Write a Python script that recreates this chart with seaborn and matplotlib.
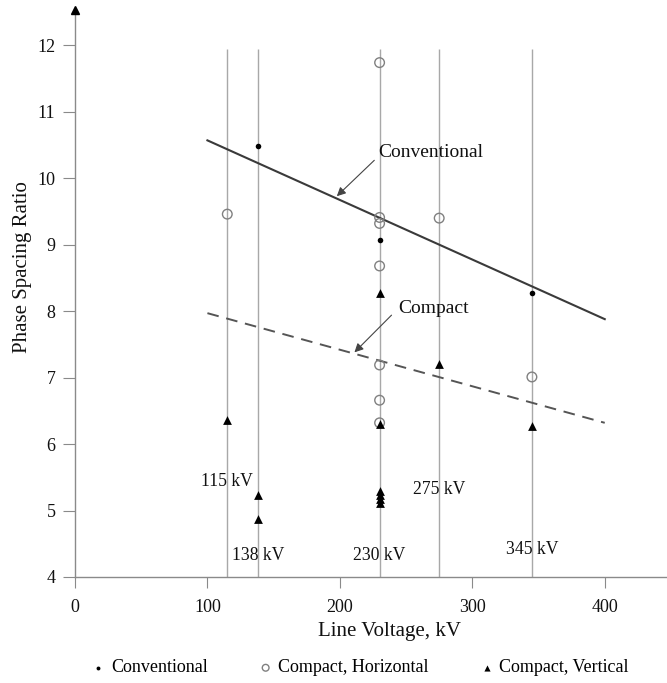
import matplotlib
matplotlib.use("Agg")
import matplotlib.pyplot as plt
import seaborn as sns
import pandas as pd

# Line voltages with a vertical guide and their labels
guide_kv = [115, 138, 230, 275, 345]
guide_labels = ["115 kV", "138 kV", "230 kV", "275 kV", "345 kV"]
guide_label_y = [5.43, 4.33, 4.33, 5.31, 4.41]

# Measured phase spacing ratios
conv_kv = [138, 230, 345]
conv_ratio = [10.48, 9.07, 8.27]

horiz_kv = [115, 230, 230, 230, 230, 230, 230, 230, 275, 345]
horiz_ratio = [9.46, 11.74, 9.41, 9.32, 8.68, 7.19, 6.66, 6.32, 9.40, 7.01]

vert_kv = [115, 138, 138, 230, 230, 230, 230, 230, 230, 275, 345]
vert_ratio = [6.36, 5.23, 4.87, 8.27, 6.30, 5.30, 5.24, 5.18, 5.12, 7.20, 6.27]

# Trend lines (end points)
trend_kv = [100, 400]
conv_trend = [10.57, 7.88]
compact_trend = [7.97, 6.32]

plt.rcParams["font.family"] = ["Liberation Serif", "DejaVu Serif"]

fig = plt.figure(figsize=(6.67, 6.83), dpi=100)
ax = fig.add_axes([0.1124, 0.1552, 0.8876, 0.830])
ax.set_xlim(0, 447)
ax.set_ylim(4, 12.53)

grey = "#8a8a8a"
ax.vlines(guide_kv, 4, 11.95, color="#a8a8a8", lw=1.0, zorder=1)

trend = pd.DataFrame({"kv": trend_kv * 2,
                      "ratio": conv_trend + compact_trend,
                      "kind": ["Conventional"] * 2 + ["Compact"] * 2})
sns.lineplot(data=trend[trend.kind == "Conventional"], x="kv", y="ratio",
             color="#3a3a3a", lw=1.5, ax=ax, legend=False, zorder=2)
sns.lineplot(data=trend[trend.kind == "Compact"], x="kv", y="ratio",
             color="#555555", lw=1.4, ax=ax, legend=False, zorder=2,
             dashes=False, linestyle=(0, (6, 4)))

sns.scatterplot(x=conv_kv, y=conv_ratio, marker="o", s=16, color="black",
                edgecolor="black", linewidth=0, ax=ax, label="Conventional", zorder=4)
sns.scatterplot(x=horiz_kv, y=horiz_ratio, marker="o", s=48, facecolor="none",
                edgecolor="#808080", linewidth=1.0, ax=ax,
                label="Compact, Horizontal", zorder=3)
sns.scatterplot(x=vert_kv, y=vert_ratio, marker="^", s=40, color="black",
                edgecolor="black", linewidth=0, ax=ax, label="Compact, Vertical", zorder=4)

for kv, lab, y in zip(guide_kv, guide_labels, guide_label_y):
    ax.text(kv, y, lab, ha="center", va="center", fontsize=12.7, color="#111111",
            zorder=5)

arrow = dict(arrowstyle="-|>", color="#444444", lw=0.8, mutation_scale=13,
             shrinkA=0, shrinkB=0)
ax.annotate("", xy=(197.7, 9.73), xytext=(226, 10.27), arrowprops=arrow)
ax.text(229, 10.39, "Conventional", ha="left", va="center", fontsize=14,
        color="#111111")
ax.annotate("", xy=(211, 7.38), xytext=(239, 7.94), arrowprops=arrow)
ax.text(244, 8.04, "Compact", ha="left", va="center", fontsize=14,
        color="#111111")

# Axes styling
for side in ("top", "right"):
    ax.spines[side].set_visible(False)
for side in ("left", "bottom"):
    ax.spines[side].set_color(grey)
    ax.spines[side].set_linewidth(1.0)
ax.set_xticks([0, 100, 200, 300, 400])
ax.set_yticks(range(4, 13))
ax.tick_params(axis="both", colors=grey, labelcolor="#111111", labelsize=13,
               direction="out")
ax.tick_params(axis="y", length=9, pad=5)
ax.tick_params(axis="x", length=8, pad=8)
ax.plot([0], [1], marker="^", color="black", markersize=6, transform=ax.transAxes,
        clip_on=False, zorder=6)

ax.set_xlabel("Line Voltage, kV", fontsize=15, color="#111111")
ax.xaxis.set_label_coords((390 - 75) / 592, -0.079)
ax.set_ylabel("Phase Spacing Ratio", fontsize=15, color="#111111")
ax.yaxis.set_label_coords(-0.073, 0.547)

handles, labels = ax.get_legend_handles_labels()
ax.get_legend().remove()
fig.legend(handles, labels, loc="center", bbox_to_anchor=(0.537, 1 - 668 / 683),
           ncol=3, frameon=False, fontsize=13, handletextpad=0.1,
           columnspacing=2.6, markerscale=0.7, handlelength=1.2)

fig.savefig("out.png", dpi=100)
